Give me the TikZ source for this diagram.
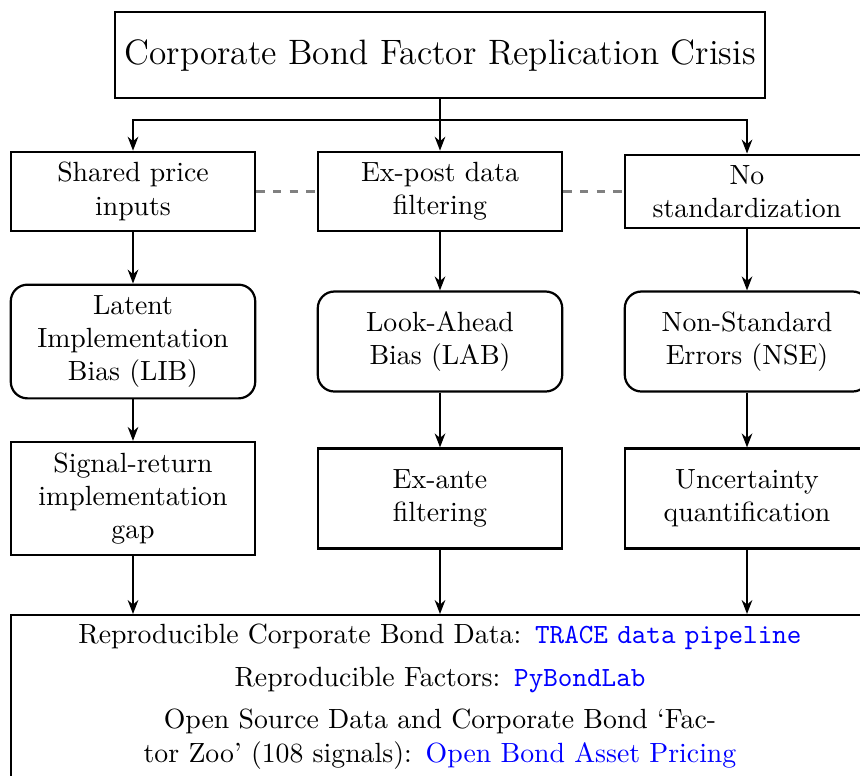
\documentclass[tikz,border=0pt]{standalone}
\usepackage{amsmath}
\usepackage{color}
\usetikzlibrary{arrows.meta}

\begin{document}
\begin{tikzpicture}[thick,x=0.36pt,y=-0.36pt,
    titlebox/.style={draw,rectangle,minimum width=234pt,minimum height=31pt,font=\fontsize{12.7pt}{15pt}\selectfont},
    causebox/.style={draw,rectangle,text width=70pt,minimum width=88pt,align=flush center,inner sep=3.8pt},
    biasbox/.style={draw,rectangle,rounded corners=6pt,text width=70pt,minimum width=88pt,minimum height=36pt,align=flush center,inner sep=3.8pt},
    fixbox/.style={draw,rectangle,text width=70pt,minimum width=88pt,minimum height=36pt,align=flush center,inner sep=3.8pt},
    link/.style={-{Stealth[length=5pt,width=3.8pt,inset=1.6pt]}},
    relation/.style={gray,dashed}]
          \useasboundingbox (0,0) rectangle (860,775);
          % top
          \node[titlebox] (crisis) at (440,55) {Corporate Bond Factor Replication Crisis};
          \coordinate (bus) at (440,120);
          % sources
          \node[causebox] (shared) at (133,191.5) {Shared price inputs};
          \node[causebox] (expost) at (440,191.5) {Ex-post data filtering};
          \node[causebox] (nostd) at (747,191.5) {No standardization};
          % biases
          \node[biasbox] (lib) at (133,341.5) {Latent Implementation Bias (LIB)};
          \node[biasbox] (lab) at (440,341.5) {Look-Ahead Bias (LAB)};
          \node[biasbox] (nse) at (747,341.5) {Non-Standard Errors (NSE)};
          % remedies
          \node[fixbox] (gap) at (133,498.5) {Signal-return implementation gap};
          \node[fixbox] (exante) at (440,498.5) {Ex-ante filtering};
          \node[fixbox] (uncert) at (747,498.5) {Uncertainty quantification};
          % resources
          \node[draw,rectangle,anchor=north,text width=302pt,align=center] (open) at (440,614)
          {Reproducible Corporate Bond Data: \textcolor{blue}{\texttt{TRACE data pipeline}}\\[3.3pt]
          Reproducible Factors: \textcolor{blue}{\texttt{PyBondLab}}\\[3.3pt]
          Open Source Data and Corporate Bond `Fac-\\
          tor Zoo' (108 signals): \textcolor{blue}{Open Bond Asset Pricing}};
          \draw (crisis.south) -- (bus);
          \draw[link] (bus) -| (shared.north);
          \draw[link] (bus) -- (expost.north);
          \draw[link] (bus) -| (nostd.north);
          \draw[relation] (shared) -- (expost);
          \draw[relation] (expost) -- (nostd);
          \draw[link] (shared) -- (lib);
          \draw[link] (expost) -- (lab);
          \draw[link] (nostd) -- (nse);
          \draw[link] (lib) -- (gap);
          \draw[link] (lab) -- (exante);
          \draw[link] (nse) -- (uncert);
          \draw[link] (gap.south) -- (gap.south |- open.north);
          \draw[link] (exante) -- (open);
          \draw[link] (uncert.south) -- (uncert.south |- open.north);
        \end{tikzpicture}
\end{document}
